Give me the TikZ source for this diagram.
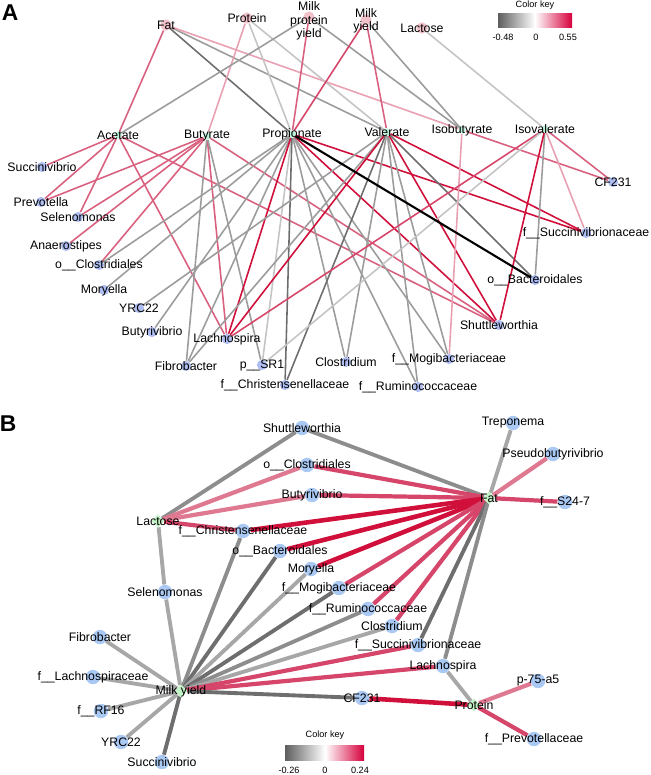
\documentclass[tikz,border=0pt]{standalone}
\usepackage{fontspec}
\setmainfont{Liberation Sans}
\usetikzlibrary{shapes.geometric}
\pgfdeclarelayer{edges}
\pgfsetlayers{edges,main}
\definecolor{netred}{HTML}{D0103A}
\definecolor{netmid}{HTML}{D6456A}
\definecolor{netpink}{HTML}{D9607E}
\definecolor{netlpink}{HTML}{E8A0B2}
\definecolor{netgray}{HTML}{9C9C9C}
\definecolor{netdgray}{HTML}{6E6E6E}
\definecolor{netlgray}{HTML}{C4C4C4}
\definecolor{taxblue}{HTML}{AEBEF2}
\definecolor{taxblueb}{HTML}{A9C9F4}
\definecolor{metgreen}{HTML}{BDF2DA}
\definecolor{traitpink}{HTML}{F2C2CA}
\definecolor{traitgreen}{HTML}{C2F2C6}
\definecolor{keygray}{HTML}{5E5E5E}
\definecolor{keyred}{HTML}{D6003C}
\tikzset{
  nm/.style={font=\fontsize{7}{7.6}\selectfont, text=black, inner sep=0pt},
  ataxon/.style={circle, fill=taxblue, inner sep=0pt, minimum size=5.8pt},
  ametab/.style={circle, fill=metgreen, inner sep=0pt, minimum size=4.2pt},
  atrait/.style={circle, fill=traitpink, inner sep=0pt, minimum size=6.4pt},
  btaxon/.style={circle, fill=taxblueb, inner sep=0pt, minimum size=8.2pt},
  btrait/.style={diamond, fill=traitgreen, inner sep=0pt, minimum size=7.5pt},
  ared/.style={netred, line width=0.9pt},
  amid/.style={netmid, line width=0.9pt},
  apink/.style={netpink, line width=0.9pt},
  alpink/.style={netlpink, line width=0.9pt},
  agray/.style={netgray, line width=0.9pt},
  adgray/.style={netdgray, line width=0.9pt},
  algray/.style={netlgray, line width=0.9pt},
  ablack/.style={black, line width=1.2pt},
  bred/.style={netred, line width=2.6pt},
  bpink/.style={netmid, line width=2.4pt},
  blpink/.style={netpink!85, line width=2.4pt},
  bgray/.style={netgray!90!black, line width=2.2pt},
  bdgray/.style={netdgray, line width=2.2pt},
  blgray/.style={netlgray!85!black, line width=2.2pt},
  panel/.style={font=\fontsize{13}{13}\bfseries, inner sep=0pt},
  keytxt/.style={font=\fontsize{5.2}{6}\selectfont, inner sep=0pt}
}
\begin{document}
\begin{tikzpicture}[x=0.02cm, y=-0.02cm]
  \useasboundingbox (0,0) rectangle (650,775);

  \node[panel] (labA) at (10,13) {A};
  \node[panel] (labB) at (8,424) {B};

  % panel A: traits
  \node[atrait, label={[nm]center:Fat}] (aFat) at (166,25) {};
  \node[atrait, label={[nm]center:Protein}] (aProtein) at (247,18) {};
  \node[atrait] (aMPY) at (309,17) {};
  \node[nm, align=center] (aMPYtxt) at (309,21) {Milk\\protein\\yield};
  \node[atrait] (aMY) at (366,20) {};
  \node[nm, align=center] (aMYtxt) at (366,21) {Milk\\yield};
  \node[atrait, label={[nm]center:Lactose}] (aLactose) at (422,28) {};

  % panel A: fatty acids
  \node[ametab, label={[nm]center:Acetate}] (aAcetate) at (118,135) {};
  \node[ametab, label={[nm]center:Butyrate}] (aButyrate) at (207,136) {};
  \node[ametab, label={[nm]center:Propionate}] (aPropionate) at (292,134) {};
  \node[ametab, label={[nm]center:Valerate}] (aValerate) at (387,132) {};
  \node[ametab, label={[nm]center:Isobutyrate}] (aIsobutyrate) at (462,130) {};
  \node[ametab, label={[nm]center:Isovalerate}] (aIsovalerate) at (545,129) {};

  % panel A: taxa
  \node[ataxon, label={[nm]center:Succinivibrio}] (aSuccinivibrio) at (42,167) {};
  \node[ataxon, label={[nm]center:Prevotella}] (aPrevotella) at (41,202) {};
  \node[ataxon, label={[nm]center:Selenomonas}] (aSelenomonas) at (78,217) {};
  \node[ataxon, label={[nm]center:Anaerostipes}] (aAnaerostipes) at (66,246) {};
  \node[ataxon, label={[nm]center:o\_\_Clostridiales}] (aClostridiales) at (99,265) {};
  \node[ataxon, label={[nm]center:Moryella}] (aMoryella) at (104,290) {};
  \node[ataxon, label={[nm]center:YRC22}] (aYRC) at (139,308) {};
  \node[ataxon, label={[nm]center:Butyrivibrio}] (aButyrivibrio) at (152,332) {};
  \node[ataxon, label={[nm]center:Lachnospira}] (aLachnospira) at (227,339) {};
  \node[ataxon, label={[nm]center:Fibrobacter}] (aFibrobacter) at (186,366) {};
  \node[ataxon, label={[nm]center:p\_\_SR1}] (aSR) at (262,365) {};
  \node[ataxon, label={[nm]center:f\_\_Christensenellaceae}] (aChristensen) at (285,385) {};
  \node[ataxon, label={[nm]center:Clostridium}] (aClostridium) at (346,362) {};
  \node[ataxon, label={[nm]center:f\_\_Mogibacteriaceae}] (aMogi) at (449,359) {};
  \node[ataxon, label={[nm]center:f\_\_Ruminococcaceae}] (aRumino) at (418,387) {};
  \node[ataxon, label={[nm]center:Shuttleworthia}] (aShuttle) at (499,325) {};
  \node[ataxon, label={[nm]center:o\_\_Bacteroidales}] (aBactero) at (535,280) {};
  \node[ataxon, label={[nm]center:f\_\_Succinivibrionaceae}] (aSuccFam) at (586,233) {};
  \node[ataxon, label={[nm]center:CF231}] (aCF) at (613,182) {};

  \begin{pgfonlayer}{edges}
    \draw[apink] (aFat) -- (aAcetate);
    \draw[adgray] (aFat) -- (aPropionate);
    \draw[agray] (aFat) -- (aValerate);
    \draw[alpink] (aFat) -- (aIsobutyrate);
    \draw[alpink] (aProtein) -- (aButyrate);
    \draw[algray] (aProtein) -- (aPropionate);
    \draw[algray] (aProtein) -- (aValerate);
    \draw[agray] (aMPY) -- (aAcetate);
    \draw[apink] (aMPY) -- (aPropionate);
    \draw[agray] (aMPY) -- (aIsobutyrate);
    \draw[amid] (aMY) -- (aPropionate);
    \draw[apink] (aMY) -- (aValerate);
    \draw[agray] (aMY) -- (aIsobutyrate);
    \draw[algray] (aLactose) -- (aIsovalerate);

    \draw[apink] (aAcetate) -- (aSuccinivibrio);
    \draw[apink] (aAcetate) -- (aPrevotella);
    \draw[apink] (aAcetate) -- (aSelenomonas);
    \draw[apink] (aAcetate) -- (aLachnospira);
    \draw[apink] (aAcetate) -- (aShuttle);

    \draw[apink] (aButyrate) -- (aPrevotella);
    \draw[apink] (aButyrate) -- (aSelenomonas);
    \draw[apink] (aButyrate) -- (aAnaerostipes);
    \draw[apink] (aButyrate) -- (aClostridiales);
    \draw[apink] (aButyrate) -- (aLachnospira);
    \draw[apink] (aButyrate) -- (aShuttle);
    \draw[agray] (aButyrate) -- (aFibrobacter);
    \draw[agray] (aButyrate) -- (aSR);

    \draw[agray] (aPropionate) -- (aClostridiales);
    \draw[agray] (aPropionate) -- (aMoryella);
    \draw[agray] (aPropionate) -- (aButyrivibrio);
    \draw[agray] (aPropionate) -- (aFibrobacter);
    \draw[algray] (aPropionate) -- (aSR);
    \draw[agray] (aPropionate) -- (aClostridium);
    \draw[agray] (aPropionate) -- (aRumino);
    \draw[agray] (aPropionate) -- (aMogi);
    \draw[ared] (aPropionate) -- (aLachnospira);
    \draw[ared] (aPropionate) -- (aShuttle);
    \draw[adgray] (aPropionate) -- (aChristensen);
    \draw[ared] (aPropionate) -- (aSuccFam);

    \draw[agray] (aValerate) -- (aYRC);
    \draw[agray] (aValerate) -- (aFibrobacter);
    \draw[ared] (aValerate) -- (aLachnospira);
    \draw[adgray] (aValerate) -- (aChristensen);
    \draw[agray] (aValerate) -- (aClostridium);
    \draw[agray] (aValerate) -- (aRumino);
    \draw[agray] (aValerate) -- (aMogi);
    \draw[ared] (aValerate) -- (aShuttle);
    \draw[adgray] (aValerate) -- (aBactero);
    \draw[ared] (aValerate) -- (aSuccFam);

    \draw[alpink] (aIsobutyrate) -- (aMogi);
    \draw[apink] (aIsobutyrate) -- (aCF);
    \draw[apink] (aIsovalerate) -- (aCF);
    \draw[alpink] (aIsovalerate) -- (aSuccFam);
    \draw[agray] (aIsovalerate) -- (aBactero);
    \draw[ared] (aIsovalerate) -- (aShuttle);
    \draw[amid] (aIsovalerate) -- (aLachnospira);
    \draw[algray] (aIsovalerate) -- (aSR);

    \draw[ablack] (aPropionate) -- (aBactero);
  \end{pgfonlayer}

  % panel A: colour key
  \node[keytxt] (keyAt) at (535,5) {Color key};
  \shade[left color=keygray, right color=white] (498,13) rectangle (535,27);
  \shade[left color=white, right color=keyred] (535,13) rectangle (572,27);
  \node[keytxt] (keyAl) at (503,37) {-0.48};
  \node[keytxt] (keyAm) at (536,37) {0};
  \node[keytxt] (keyAr) at (568,37) {0.55};

  % panel B: traits
  \node[btrait, label={[nm]center:Lactose}] (bLactose) at (158,521) {};
  \node[btrait, label={[nm]center:Fat}] (bFat) at (489,498) {};
  \node[btrait, label={[nm]center:Milk yield}] (bMY) at (181,691) {};
  \node[btrait, label={[nm]center:Protein}] (bProtein) at (474,705) {};

  % panel B: taxa
  \node[btaxon, label={[nm]center:Shuttleworthia}] (bShuttle) at (302,428) {};
  \node[btaxon, label={[nm]center:o\_\_Clostridiales}] (bClostridiales) at (307,465) {};
  \node[btaxon, label={[nm]center:Butyrivibrio}] (bButyrivibrio) at (312,495) {};
  \node[btaxon, label={[nm]center:f\_\_Christensenellaceae}] (bChristensen) at (243,531) {};
  \node[btaxon, label={[nm]center:o\_\_Bacteroidales}] (bBactero) at (280,551) {};
  \node[btaxon, label={[nm]center:Moryella}] (bMoryella) at (311,569) {};
  \node[btaxon, label={[nm]center:f\_\_Mogibacteriaceae}] (bMogi) at (339,588) {};
  \node[btaxon, label={[nm]center:f\_\_Ruminococcaceae}] (bRumino) at (368,609) {};
  \node[btaxon, label={[nm]center:Clostridium}] (bClostridium) at (392,626) {};
  \node[btaxon, label={[nm]center:f\_\_Succinivibrionaceae}] (bSuccFam) at (418,645) {};
  \node[btaxon, label={[nm]center:Lachnospira}] (bLachnospira) at (443,666) {};
  \node[btaxon, label={[nm]center:CF231}] (bCF) at (362,698) {};
  \node[btaxon, label={[nm]center:p-75-a5}] (bPsev) at (538,681) {};
  \node[btaxon, label={[nm]center:f\_\_Prevotellaceae}] (bPrevo) at (534,739) {};
  \node[btaxon, label={[nm]center:Treponema}] (bTreponema) at (513,423) {};
  \node[btaxon, label={[nm]center:Pseudobutyrivibrio}] (bPseudo) at (553,454) {};
  \node[btaxon, label={[nm]center:f\_\_S24-7}] (bS24) at (565,502) {};
  \node[btaxon, label={[nm]center:Selenomonas}] (bSelenomonas) at (165,592) {};
  \node[btaxon, label={[nm]center:Fibrobacter}] (bFibrobacter) at (100,637) {};
  \node[btaxon, label={[nm]center:f\_\_Lachnospiraceae}] (bLachnoFam) at (93,677) {};
  \node[btaxon, label={[nm]center:f\_\_RF16}] (bRF) at (101,711) {};
  \node[btaxon, label={[nm]center:YRC22}] (bYRC) at (121,742) {};
  \node[btaxon, label={[nm]center:Succinivibrio}] (bSuccinivibrio) at (162,762) {};

  \begin{pgfonlayer}{edges}
    \draw[bgray] (bLactose) -- (bShuttle);
    \draw[blpink] (bLactose) -- (bClostridiales);
    \draw[blpink] (bLactose) -- (bButyrivibrio);
    \draw[bpink] (bLactose) -- (bChristensen);
    \draw[blgray] (bLactose) -- (bSelenomonas);

    \draw[bgray] (bFat) -- (bShuttle);
    \draw[bpink] (bFat) -- (bClostridiales);
    \draw[bpink] (bFat) -- (bButyrivibrio);
    \draw[bred] (bFat) -- (bChristensen);
    \draw[bred] (bFat) -- (bBactero);
    \draw[bred] (bFat) -- (bMoryella);
    \draw[bpink] (bFat) -- (bMogi);
    \draw[bpink] (bFat) -- (bRumino);
    \draw[bpink] (bFat) -- (bClostridium);
    \draw[bdgray] (bFat) -- (bSuccFam);
    \draw[bgray] (bFat) -- (bLachnospira);
    \draw[blgray] (bFat) -- (bTreponema);
    \draw[blpink] (bFat) -- (bPseudo);
    \draw[bpink] (bFat) -- (bS24);

    \draw[blgray] (bMY) -- (bSelenomonas);
    \draw[bgray] (bMY) -- (bChristensen);
    \draw[bdgray] (bMY) -- (bBactero);
    \draw[blgray] (bMY) -- (bMoryella);
    \draw[bdgray] (bMY) -- (bMogi);
    \draw[bgray] (bMY) -- (bRumino);
    \draw[blgray] (bMY) -- (bClostridium);
    \draw[bpink] (bMY) -- (bSuccFam);
    \draw[bpink] (bMY) -- (bLachnospira);
    \draw[bdgray] (bMY) -- (bCF);
    \draw[blgray] (bMY) -- (bFibrobacter);
    \draw[blgray] (bMY) -- (bLachnoFam);
    \draw[blgray] (bMY) -- (bRF);
    \draw[blgray] (bMY) -- (bYRC);
    \draw[bdgray] (bMY) -- (bSuccinivibrio);

    \draw[bred] (bCF) -- (bProtein);
    \draw[blgray] (bLachnospira) -- (bProtein);
    \draw[blpink] (bProtein) -- (bPsev);
    \draw[bpink] (bProtein) -- (bPrevo);
  \end{pgfonlayer}

  % panel B: colour key
  \node[keytxt] (keyBt) at (325,735) {Color key};
  \shade[left color=keygray, right color=white] (285,745) rectangle (325,760);
  \shade[left color=white, right color=keyred] (325,745) rectangle (364,760);
  \node[keytxt] (keyBl) at (289,770) {-0.26};
  \node[keytxt] (keyBm) at (325,770) {0};
  \node[keytxt] (keyBr) at (360,770) {0.24};
\end{tikzpicture}
\end{document}
